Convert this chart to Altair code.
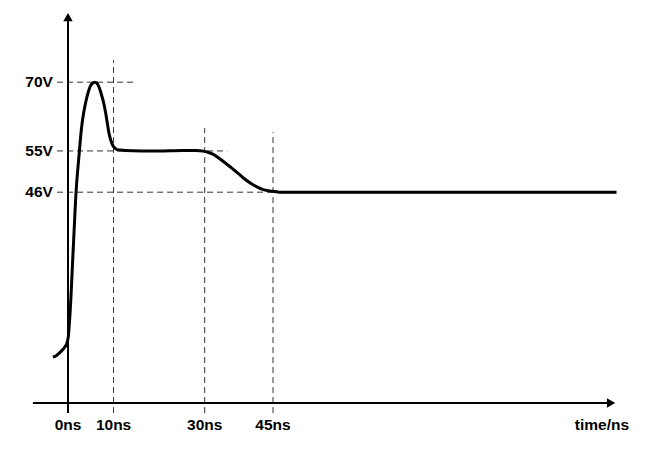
import altair as alt
import pandas as pd

# ---- data ----
curve_t = [-3.3, -2.6, -2.1, -1.4, -0.7, -0.2, 0.07, 0.45, 1.17, 1.8, 2.4, 3.0,
           3.45, 3.95, 4.4, 4.8, 5.3, 5.9, 6.5, 7.0, 7.4, 7.9, 8.35, 9.05, 9.5,
           9.9, 10.3, 10.8, 11.5, 12.5, 16.0, 20.0, 25.0, 28.0, 30.0, 31.0,
           32.0, 33.0, 34.1, 35.5, 37.0, 38.5, 40.0, 41.4, 42.7, 44.0, 45.0,
           47.0, 50.0, 80.0, 120.4]
curve_v = [10.0, 10.3, 10.7, 11.4, 12.2, 13.2, 14.5, 19.6, 34.1, 46.5, 53.8, 60.3,
           63.4, 65.9, 67.7, 68.9, 69.7, 70.0, 69.6, 68.4, 67.1, 65.2, 62.8, 58.6, 57.0,
           56.1, 55.6, 55.3, 55.2, 55.1, 55.0, 55.0, 55.1, 55.1, 54.9, 54.6,
           54.2, 53.5, 52.7, 51.6, 50.4, 49.1, 48.0, 47.2, 46.6, 46.3, 46.2,
           46.0, 46.0, 46.0, 46.0]

level_values = [70, 55, 46]
level_labels = ["70V", "55V", "46V"]
level_ends = [15, 35, 45.5]

time_values = [0, 10, 30, 45]
time_labels = ["0ns", "10ns", "30ns", "45ns"]
time_tops = [None, 74.8, 60.0, 59.1]

x_label = "time/ns"

# ---- scales ----
xs = alt.Scale(domain=[-13.17, 125.77], nice=False, zero=False)
ys = alt.Scale(domain=[-8.29, 86.19], nice=False, zero=False)

FONT = "Liberation Sans"
FS = 15.5

# solid axes
axes_df = pd.DataFrame({
    "x1": [-7.7, 0.0],
    "x2": [119.2, 0.0],
    "y1": [0.0, -2.2],
    "y2": [0.0, 84.2],
})
axes = alt.Chart(axes_df).mark_rule(color="black", strokeWidth=2).encode(
    x=alt.X("x1:Q", scale=xs, axis=None),
    x2="x2:Q",
    y=alt.Y("y1:Q", scale=ys, axis=None),
    y2="y2:Q",
)

arrow_r = alt.Chart(pd.DataFrame({"x": [119.2], "y": [0.0]})).mark_point(
    shape="triangle-right", filled=True, color="black", size=90, opacity=1
).encode(x=alt.X("x:Q", scale=xs, axis=None), y=alt.Y("y:Q", scale=ys, axis=None))

arrow_u = alt.Chart(pd.DataFrame({"x": [0.0], "y": [84.2]})).mark_point(
    shape="triangle-up", filled=True, color="black", size=90, opacity=1
).encode(x=alt.X("x:Q", scale=xs, axis=None), y=alt.Y("y:Q", scale=ys, axis=None))

# dashed guide lines
h_df = pd.DataFrame({"x1": [-2.4] * len(level_values), "x2": level_ends,
                     "y": level_values})
h_dash = alt.Chart(h_df).mark_rule(color="#333333", strokeWidth=1,
                                   strokeDash=[6, 4]).encode(
    x=alt.X("x1:Q", scale=xs, axis=None), x2="x2:Q",
    y=alt.Y("y:Q", scale=ys, axis=None),
)

v_rows = [(t, top) for t, top in zip(time_values, time_tops) if top is not None]
v_df = pd.DataFrame({"x": [r[0] for r in v_rows], "y1": [-2.2] * len(v_rows),
                     "y2": [r[1] for r in v_rows]})
v_dash = alt.Chart(v_df).mark_rule(color="#333333", strokeWidth=1,
                                   strokeDash=[6, 4]).encode(
    x=alt.X("x:Q", scale=xs, axis=None),
    y=alt.Y("y1:Q", scale=ys, axis=None), y2="y2:Q",
)

# curve
c_df = pd.DataFrame({"t": curve_t, "v": curve_v})
curve = alt.Chart(c_df).mark_line(color="black", strokeWidth=3,
                                  interpolate="monotone").encode(
    x=alt.X("t:Q", scale=xs, axis=None),
    y=alt.Y("v:Q", scale=ys, axis=None),
)

# labels
yl_df = pd.DataFrame({"x": [-3.3] * 3, "y": level_values, "label": level_labels})
y_labels = alt.Chart(yl_df).mark_text(align="right", baseline="middle", font=FONT,
                                      fontSize=FS, fontWeight="bold",
                                      color="black").encode(
    x=alt.X("x:Q", scale=xs, axis=None), y=alt.Y("y:Q", scale=ys, axis=None),
    text="label:N",
)

xl_df = pd.DataFrame({"x": time_values + [117.2],
                      "y": [-4.8] * (len(time_values) + 1),
                      "label": time_labels + [x_label]})
x_labels = alt.Chart(xl_df).mark_text(align="center", baseline="middle", font=FONT,
                                      fontSize=FS, fontWeight="bold",
                                      color="black").encode(
    x=alt.X("x:Q", scale=xs, axis=None), y=alt.Y("y:Q", scale=ys, axis=None),
    text="label:N",
)

chart = alt.layer(h_dash, v_dash, axes, arrow_r, arrow_u, curve, y_labels,
                  x_labels).properties(
    width=633, height=433, autosize="none", padding=0,
).configure_view(strokeWidth=0)

chart.save("out.html", embed_options={"renderer": "svg", "actions": False})
